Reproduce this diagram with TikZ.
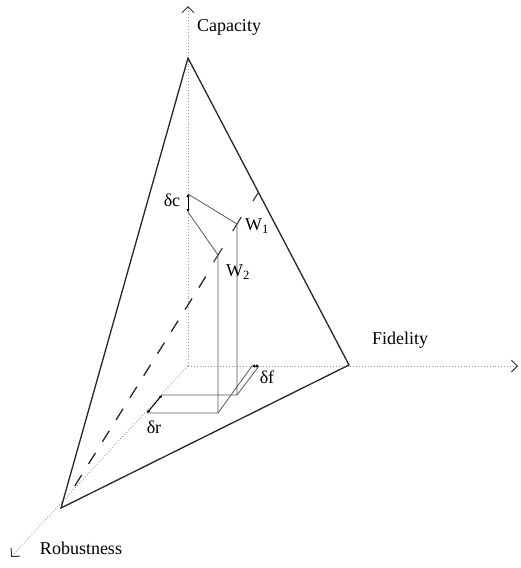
\documentclass[tikz,border=0pt]{standalone}
\usepackage{fontspec}
\setmainfont{Liberation Serif}
\usetikzlibrary{arrows.meta, calc}

\begin{document}
\begin{tikzpicture}[
  x=1pt, y=-1pt,
  font=\fontsize{18}{21}\selectfont,
  axis/.style={gray!80, dotted, line width=0.9pt, -{Straight Barb[length=6pt, width=12pt, color=black!80, line width=1pt]}},
  edge/.style={line width=1.3pt, black!85},
  guide/.style={line width=0.8pt, black!65},
  tickmark/.style={line width=1.1pt, black!80},
  delta/.style={line width=1pt, {Latex[length=3pt, width=3.5pt]}-{Latex[length=3pt, width=3.5pt]}}
]
\useasboundingbox (0,0) rectangle (520,568);
% axes
\coordinate (O) at (188,366);
\coordinate (capEnd) at (188,6);
\coordinate (fidEnd) at (518,366);
\coordinate (robEnd) at (11,557);
% triangle corners and the point on the capacity-fidelity edge
\coordinate (C) at (188,58);
\coordinate (F) at (349,365);
\coordinate (R) at (61,508);
\coordinate (M) at (258,193);
% the two working points and their feet
\coordinate (w1) at (237,224);
\coordinate (w2) at (218,255);
\coordinate (w1Foot) at (237,395);
\coordinate (w2Foot) at (218,413);
\coordinate (dcTop) at (188,194);
\coordinate (dcBot) at (188,212);
\coordinate (drTop) at (162,395);
\coordinate (drBot) at (147,413);
\coordinate (dfLeft) at (252,366);
\coordinate (dfRight) at (259,366);

\draw [axis] (O) -- (capEnd);
\draw [axis] (O) -- (fidEnd);
\draw [axis] (O) -- (robEnd);

\draw [edge] (C) -- (F) -- (R) -- cycle;
\draw [edge, dash pattern=on 13pt off 13pt] ($(R)!0.07!(M)$) -- ($(R)!0.75!(M)$);

\draw [tickmark] (M) -- ++(-5,8);
\draw [tickmark] ($(w1)+(-4.3,7)$) -- ($(w1)+(4.3,-7)$);
\draw [tickmark] ($(w2)+(-4.3,7)$) -- ($(w2)+(4.3,-7)$);

\draw [guide] (dcTop) -- (w1) -- (w1Foot) -- (drTop);
\draw [guide] (dcBot) -- (w2) -- (w2Foot) -- (drBot);
\draw [guide] (w1Foot) -- (dfRight);
\draw [guide] (w2Foot) -- (dfLeft);

\draw [delta] (dcTop) -- (dcBot);
\draw [delta] (drBot) -- (drTop);
\draw [delta] (dfLeft) -- (dfRight);

% labels
\node (capLabel) at (229,27) {Capacity};
\node (fidLabel) at (400,340) {Fidelity};
\node (robLabel) at (81,548) {Robustness};
\node (dcLabel) at (172,200) {δc};
\node (w1Label) at (257,226) {W\textsubscript{1}};
\node (w2Label) at (238,272) {W\textsubscript{2}};
\node (dfLabel) at (267,377) {δf};
\node (drLabel) at (154,427) {δr};
\end{tikzpicture}
\end{document}
